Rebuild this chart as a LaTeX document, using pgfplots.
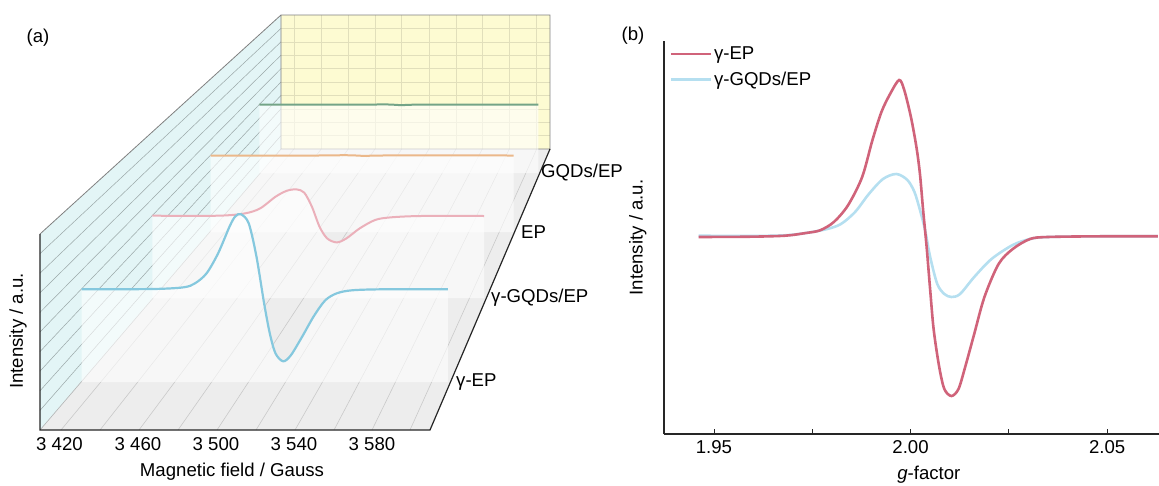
\documentclass[border=0pt]{standalone}
\usepackage{pgfplots}
\usepackage{pgfplotstable}
\pgfplotsset{compat=1.18}
\usepackage{fontspec}
\setmainfont{Liberation Sans}
\definecolor{wallc}{HTML}{E3F5F6}
\definecolor{wally}{HTML}{FDFBD2}
\definecolor{floorc}{HTML}{EDEDED}
\definecolor{cgreen}{HTML}{74A487}
\definecolor{corange}{HTML}{EBB88A}
\definecolor{cpink}{HTML}{EBB0BA}
\definecolor{cblue}{HTML}{85C8DE}
\definecolor{bred}{HTML}{D0637A}
\definecolor{bblue}{HTML}{B5DFF0}
% Panel (a): field / Gauss, intensity in a.u.
\pgfplotstableread{
B I
3409 0
3448.1 0.3
3464.8 2
3471 6
3477.3 16
3483.6 36
3489.9 63
3493 73
3496.1 75
3500.3 66
3504.5 33
3508.7 -14
3511.8 -44
3514.9 -64
3519.1 -72
3523.3 -66
3529.6 -47
3535.8 -27
3542.1 -11
3548.4 -4
3556.7 -1
3573.4 0
3609 0
}\tGEP
\pgfplotstableread{
B I
3409 0
3448.7 0
3464.8 2.3
3474 7.3
3483.3 19
3490.2 25
3496 26.3
3500.6 23
3505.2 9
3509.8 -11
3514.4 -22.7
3520.2 -26.7
3526 -22.7
3534 -12.7
3543.3 -4.3
3552.5 -1.7
3570.9 -0.3
3609 -0.3
}\tGGQ
\pgfplotstableread{
B I
3409 0
3480 0
3497 0.3
3505 0
3512 -0.5
3522 0
3609 0
}\tEP
\pgfplotstableread{
B I
3409 0
3480 0
3498 0.3
3505 0
3512 -0.5
3522 0
3609 0
}\tGQ
% Panel (b)
\pgfplotstableread{
g I
1.9461 0
1.9592 0.3
1.9681 1.3
1.9734 4
1.9770 6.7
1.9805 15
1.9841 31.7
1.9877 60
1.9903 96.7
1.9926 125
1.9948 143
1.9971 157
1.9984 147
2.0001 120
2.0015 90
2.0024 63
2.0032 27
2.0041 -10
2.0050 -53
2.0059 -93
2.0073 -130
2.0086 -152
2.0104 -159
2.0122 -152
2.0139 -130
2.0162 -97
2.0188 -60
2.0224 -27
2.0260 -12
2.0304 -2
2.0349 0
2.0482 0.7
2.0629 0.7
}\tbRed
\pgfplotstableread{
g I
1.9461 1.3
1.9592 1
1.9681 1.7
1.9734 4
1.9788 8
1.9823 13
1.9859 25
1.9894 43
1.9930 58
1.9964 63
1.9992 57
2.0010 45
2.0024 27
2.0037 7
2.0050 -20
2.0068 -47
2.0086 -57
2.0104 -60
2.0126 -57
2.0162 -40
2.0206 -22
2.0260 -8
2.0304 -2
2.0349 0
2.0482 0.7
2.0629 0.7
}\tbBlue
\newcommand{\fs}{\fontsize{18.6}{20}\selectfont}
\begin{document}
\begin{tikzpicture}
\path[use as bounding box] (0,0) rectangle (1159pt,485pt);
\begin{axis}[at={(0,0)},anchor=south west,scale only axis,width=1159pt,height=485pt,
  xmin=0,xmax=1159,ymin=0,ymax=485,y dir=reverse,hide axis,clip=false,no markers,unbounded coords=jump]
% walls and floor
\addplot[fill=floorc,draw=none] coordinates {(40,430)(281,149)(550,149)(430,430)} --cycle;
\addplot[fill=wally,draw=none] coordinates {(281,15)(550,15)(550,149)(281,149)} --cycle;
\addplot[fill=wallc,draw=none] coordinates {(40,234)(281,15)(281,149)(40,430)} --cycle;
% grids
\addplot[draw=black!11!wally,line width=0.6pt] coordinates {
(281,28.4)(550,28.4)(nan,nan)(281,41.8)(550,41.8)(nan,nan)(281,55.2)(550,55.2)(nan,nan)(281,68.6)(550,68.6)(nan,nan)
(281,82)(550,82)(nan,nan)(281,95.4)(550,95.4)(nan,nan)(281,108.8)(550,108.8)(nan,nan)(281,122.2)(550,122.2)(nan,nan)(281,135.6)(550,135.6)(nan,nan)
(294,15)(294,149)(nan,nan)(321.3,15)(321.3,149)(nan,nan)(348.3,15)(348.3,149)(nan,nan)(375,15)(375,149)(nan,nan)(401.7,15)(401.7,149)(nan,nan)
(429,15)(429,149)(nan,nan)(456,15)(456,149)(nan,nan)(482.3,15)(482.3,149)(nan,nan)(509.3,15)(509.3,149)(nan,nan)(536.7,15)(536.7,149)};
\addplot[draw=black!32!wallc,line width=0.5pt] coordinates {
(40,253.6)(281,28.4)(nan,nan)(40,273.2)(281,41.8)(nan,nan)(40,292.8)(281,55.2)(nan,nan)(40,312.4)(281,68.6)(nan,nan)(40,332)(281,82)(nan,nan)
(40,351.6)(281,95.4)(nan,nan)(40,371.2)(281,108.8)(nan,nan)(40,390.8)(281,122.2)(nan,nan)(40,410.4)(281,135.6)};
\addplot[draw=black!15!floorc,line width=0.6pt] coordinates {
(61,430)(294,149)(nan,nan)(100,430)(321.3,149)(nan,nan)(139,430)(348.3,149)(nan,nan)(178,430)(375,149)(nan,nan)(217,430)(401.7,149)(nan,nan)
(256,430)(429,149)(nan,nan)(295,430)(456,149)(nan,nan)(334,430)(482.3,149)(nan,nan)(372,430)(509.3,149)(nan,nan)(410,430)(536.7,149)};
% frame
\addplot[draw=black!50,line width=0.8pt] coordinates {(40,234)(281,15)(550,15)(550,149)(281,149)(281,15)};
\addplot[draw=black!30,line width=0.6pt] coordinates {(281,149)(40,430)};
% series, back to front: translucent plane, then curve
\addplot[fill=white,fill opacity=0.6,draw=none] table[x expr={259.3+1.395*(\thisrow{B}-3409)},y expr={104.7-\thisrow{I}}] {\tGQ} -- (axis cs:538.3,173) -- (axis cs:259.3,173) -- cycle;
\addplot[cgreen,line width=2pt,smooth,tension=0.4] table[x expr={259.3+1.395*(\thisrow{B}-3409)},y expr={104.7-\thisrow{I}}] {\tGQ};
\addplot[fill=white,fill opacity=0.6,draw=none] table[x expr={210.5+1.5155*(\thisrow{B}-3409)},y expr={155.5-\thisrow{I}}] {\tEP} -- (axis cs:513.6,232) -- (axis cs:210.5,232) -- cycle;
\addplot[corange,line width=2pt,smooth,tension=0.4] table[x expr={210.5+1.5155*(\thisrow{B}-3409)},y expr={155.5-\thisrow{I}}] {\tEP};
\addplot[fill=white,fill opacity=0.6,draw=none] table[x expr={152.3+1.659*(\thisrow{B}-3409)},y expr={215.7-\thisrow{I}}] {\tGGQ} -- (axis cs:484.1,298) -- (axis cs:152.3,298) -- cycle;
\addplot[cpink,line width=2pt,smooth,tension=0.5] table[x expr={152.3+1.659*(\thisrow{B}-3409)},y expr={215.7-\thisrow{I}}] {\tGGQ};
\addplot[fill=white,fill opacity=0.6,draw=none] table[x expr={81.5+1.8315*(\thisrow{B}-3409)},y expr={289.3-\thisrow{I}}] {\tGEP} -- (axis cs:447.8,382) -- (axis cs:81.5,382) -- cycle;
\addplot[cblue,line width=2.2pt,smooth,tension=0.5] table[x expr={81.5+1.8315*(\thisrow{B}-3409)},y expr={289.3-\thisrow{I}}] {\tGEP};
% main spines
\addplot[draw=black!85,line width=1.2pt] coordinates {(40,234)(40,430)(430,430)(550,149)};
% texts
\node[font=\fs] at (axis cs:38,38) {(a)};
\node[font=\fs] at (axis cs:633,36) {(b)};
\node[font=\fs] at (axis cs:59.5,444) {3 420};
\node[font=\fs] at (axis cs:138,444) {3 460};
\node[font=\fs] at (axis cs:216,444) {3 500};
\node[font=\fs] at (axis cs:294,444) {3 540};
\node[font=\fs] at (axis cs:372,444) {3 580};
\node[font=\fs] at (axis cs:232,472) {Magnetic field / Gauss};
\node[font=\fs,rotate=90] at (axis cs:18,331) {Intensity / a.u.};
\node[font=\fs,anchor=west,inner sep=0pt] at (axis cs:541,173) {GQDs/EP};
\node[font=\fs,anchor=west,inner sep=0pt] at (axis cs:521,232) {EP};
\node[font=\fs,anchor=west,inner sep=0pt] at (axis cs:491,298) {γ-GQDs/EP};
\node[font=\fs,anchor=west,inner sep=0pt] at (axis cs:456,382) {γ-EP};
\end{axis}
\begin{axis}[at={(664pt,51pt)},anchor=south west,scale only axis,width=495pt,height=393pt,
  xmin=1.9373,xmax=2.0632,ymin=-197,ymax=196,
  axis lines=left,axis line style={-,line width=1.2pt,black!85},
  xtick={1.95,1.975,2,2.025,2.05},xticklabels={1.95,,2.00,,2.05},ytick=\empty,
  tick align=inside,major tick length=5pt,tick style={black!85,line width=0.8pt},
  ticklabel style={font=\fs},xticklabel style={yshift=-3pt},
  xlabel={\textit{g}-factor},ylabel={Intensity / a.u.},
  label style={font=\fs},
  xlabel style={at={(axis description cs:0.535,0)},anchor=north,yshift=-29pt},
  ylabel style={at={(axis description cs:0,0.5)},anchor=south,yshift=14pt},
  no markers,
  legend style={at={(rel axis cs:0.011,1)},anchor=north west,yshift=-4pt,draw=none,fill=none,font=\fs,row sep=7pt,inner sep=0pt,outer sep=0pt},
  legend cell align=left,
  legend image code/.code={\draw[#1] (0pt,0pt) -- (40pt,0pt);},
]
\addplot[bblue,line width=2.6pt,smooth,tension=0.5,forget plot] table[x=g,y=I] {\tbBlue};
\addplot[bred,line width=2.6pt,smooth,tension=0.5,forget plot] table[x=g,y=I] {\tbRed};
\addlegendimage{bred,line width=2.6pt}
\addlegendentry{γ-EP}
\addlegendimage{bblue,line width=2.6pt}
\addlegendentry{γ-GQDs/EP}
\end{axis}
\end{tikzpicture}
\end{document}
